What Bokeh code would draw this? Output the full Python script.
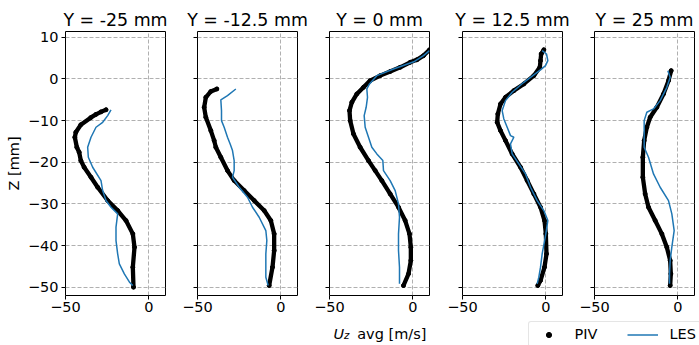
from bokeh.plotting import figure
from bokeh.layouts import row, column
from bokeh.models import Range1d, FixedTicker, Legend, LegendItem
from bokeh.core.properties import value
from bokeh.embed import file_html
from bokeh.resources import INLINE

# ---------------- data ----------------
titles = ["Y = -25 mm", "Y = -12.5 mm", "Y = 0 mm", "Y = 12.5 mm", "Y = 25 mm"]
x_ticks = [-50, 0]
y_ticks = [-50, -40, -30, -20, -10, 0, 10]
y_label = "Z [mm]"
x_label_parts = ["U", "z", "avg [m/s]"]
legend_labels = ["PIV", "LES"]

# Y = -25 mm
piv_z_1 = [-7.4, -7.9, -8.5, -9.3, -11.0, -12.8, -14.0, -16.4, -17.6, -19.6, -21.2, -23.6, -26.0,
           -29.2, -31.6, -34.0, -37.2, -40.4, -45.2, -50.0]
piv_u_1 = [-25.7, -28.7, -31.7, -34.9, -40.8, -43.8, -44.4, -43.2, -41.8, -40.8, -38.8, -34.7, -30.7,
           -24.7, -18.7, -13.7, -9.6, -8.6, -9.6, -9.2]
les_z_1 = [-7.4, -8.8, -10.4, -11.6, -14.0, -16.4, -18.8, -21.2, -24.4, -26.8, -29.2, -30.8, -32.4,
           -35.6, -38.8, -42.0, -44.4, -46.8, -48.8, -49.6]
les_u_1 = [-22.7, -24.7, -27.7, -31.7, -34.7, -36.7, -36.3, -33.7, -28.7, -27.7, -25.7, -22.7, -18.7,
           -19.7, -19.7, -18.7, -17.7, -14.7, -11.6, -9.6]

# Y = -12.5 mm
piv_z_2 = [-2.4, -3.0, -4.4, -6.8, -9.2, -12.4, -14.8, -16.4, -18.8, -22.0, -24.4, -26.8, -29.2,
           -31.6, -34.0, -37.2, -41.2, -45.2, -49.6]
piv_u_2 = [-38.4, -42.0, -45.0, -46.0, -45.0, -42.0, -40.0, -39.0, -36.0, -32.0, -28.0, -22.0, -16.0,
           -10.0, -6.0, -4.0, -4.0, -5.0, -7.0]
les_z_2 = [-2.4, -4.0, -5.0, -7.6, -10.0, -11.6, -14.0, -15.6, -17.2, -19.6, -22.0, -23.6, -26.0,
           -28.4, -30.8, -33.2, -36.4, -38.8, -42.0, -45.2, -47.6, -49.6]
les_u_2 = [-27.0, -32.0, -36.0, -35.6, -35.6, -34.0, -32.0, -30.4, -29.0, -28.0, -28.0, -29.0, -25.0,
           -20.0, -17.0, -13.0, -9.0, -8.4, -9.0, -9.0, -9.0, -7.6]

# Y = 0 mm
piv_z_3 = [7.0, 5.6, 4.6, 4.0, 2.8, 1.8, 0.8, -0.4, -2.0, -3.6, -5.6, -7.6, -10.0, -13.2, -16.4,
           -19.6, -22.0, -24.4, -27.6, -30.8, -34.0, -37.2, -40.4, -43.6, -46.8, -49.6]
piv_u_3 = [10.0, 6.4, 2.4, -1.6, -7.6, -13.6, -19.6, -25.6, -29.6, -33.6, -36.6, -38.0, -37.6, -35.6,
           -31.6, -26.6, -22.6, -18.6, -13.6, -8.6, -4.6, -2.0, -1.2, -1.2, -2.6, -5.6]
les_z_3 = [6.8, 5.6, 4.2, 2.4, 0.8, -1.2, -2.4, -4.4, -6.8, -8.8, -11.6, -14.0, -16.4, -18.0, -19.6,
           -22.0, -24.4, -26.8, -30.0, -33.2, -37.2, -41.2, -45.2, -49.2]
les_u_3 = [10.0, 6.4, 1.0, -11.6, -21.6, -26.0, -27.6, -27.2, -28.0, -29.2, -28.6, -26.6, -24.6, -21.6,
           -18.0, -17.6, -13.6, -10.6, -8.6, -8.0, -8.6, -8.6, -8.0, -8.0]

# Y = 12.5 mm
piv_z_4 = [7.0, 6.0, 4.4, 2.8, 0.8, -1.2, -2.8, -4.4, -6.0, -8.4, -10.4, -12.4, -14.8, -18.0, -21.2,
           -24.4, -27.6, -30.8, -34.0, -37.2, -42.0, -45.2, -48.4, -49.6]
piv_u_4 = [-1.2, -2.8, -3.2, -3.6, -7.2, -13.2, -19.2, -24.2, -27.2, -28.8, -29.2, -27.2, -24.2, -20.2,
           -15.2, -11.2, -7.2, -3.2, -0.8, 0.0, 0.4, -0.8, -3.2, -4.8]
les_z_4 = [6.8, 6.0, 4.4, 3.2, 2.2, 1.0, -0.8, -3.2, -5.2, -7.6, -9.6, -11.6, -13.6, -14.0, -15.6,
           -18.0, -20.4, -22.8, -26.0, -29.2, -31.6, -34.0, -37.2, -42.0, -45.2, -47.6, -49.2]
les_u_4 = [-2.2, 0.4, 1.2, -0.2, -3.2, -7.2, -13.2, -20.2, -24.2, -26.2, -25.2, -23.2, -21.2, -19.2,
           -21.2, -20.2, -16.2, -12.2, -9.2, -5.2, -1.2, 1.2, 0.0, -2.2, -3.2, -4.2, -5.2]

# Y = 25 mm
piv_z_5 = [2.0, -0.4, -3.6, -6.8, -9.2, -11.6, -14.8, -18.8, -23.6, -27.6, -30.8, -34.0, -37.2,
           -40.4, -43.6, -46.8, -49.6]
piv_u_5 = [-4.0, -5.6, -8.6, -12.6, -16.6, -18.6, -20.2, -21.0, -21.0, -19.6, -17.6, -13.6, -9.6,
           -6.6, -4.6, -4.2, -4.6]
les_z_5 = [2.0, 0.4, -2.0, -5.2, -7.2, -8.0, -10.0, -13.2, -16.4, -18.8, -22.8, -26.0, -29.2, -32.4,
           -36.4, -40.4, -43.6, -46.8, -49.2]
les_u_5 = [-6.0, -4.6, -6.6, -10.6, -14.6, -18.6, -20.2, -20.2, -20.2, -17.6, -14.6, -10.6, -5.6,
           -3.6, -2.2, -3.6, -4.6, -5.0, -5.0]

piv_z = [piv_z_1, piv_z_2, piv_z_3, piv_z_4, piv_z_5]
piv_u = [piv_u_1, piv_u_2, piv_u_3, piv_u_4, piv_u_5]
les_z = [les_z_1, les_z_2, les_z_3, les_z_4, les_z_5]
les_u = [les_u_1, les_u_2, les_u_3, les_u_4, les_u_5]

# ---------------- styling ----------------
FONT = "DejaVu Sans"
TICK_FS = "14.5px"
TITLE_FS = "17.4px"
LES_COLOR = "#1f77b4"
GRID_COLOR = "#b0b0b0"


def minus(v):
    return ("\u2212" + str(abs(v))) if v < 0 else str(v)


# per-panel geometry: (width, height, left border, right border, bottom border)
geo = [
    (181, 345, 65, 16, 50),
    (132, 345, 16, 16, 50),
    (132, 320, 16, 16, 25),
    (133, 320, 17, 16, 25),
    (121, 320, 16, 5, 25),
]

panels = []
for i in range(5):
    w, h, bl, br, bb = geo[i]
    p = figure(width=w, height=h, x_range=Range1d(-50, 10), y_range=Range1d(-52, 11.4),
               output_backend="svg", toolbar_location=None,
               min_border_left=bl, min_border_right=br, min_border_top=31, min_border_bottom=bb)
    p.title.text = titles[i]
    p.title.align = "center"
    p.title.text_font = FONT
    p.title.text_font_size = TITLE_FS
    p.title.text_font_style = "normal"
    p.title.text_color = "black"
    p.title.standoff = 3

    p.outline_line_color = "black"
    p.outline_line_width = 1
    p.background_fill_color = "white"
    p.border_fill_color = "white"

    p.xaxis.ticker = FixedTicker(ticks=x_ticks)
    p.yaxis.ticker = FixedTicker(ticks=y_ticks)
    p.xaxis.major_label_overrides = {t: minus(t) for t in x_ticks}
    if i == 0:
        p.yaxis.major_label_overrides = {t: minus(t) for t in y_ticks}
        p.yaxis.axis_label = y_label
        p.yaxis.axis_label_text_font = FONT
        p.yaxis.axis_label_text_font_size = TICK_FS
        p.yaxis.axis_label_text_font_style = "normal"
        p.yaxis.axis_label_text_color = "black"
        p.yaxis.axis_label_standoff = 3
    else:
        p.yaxis.major_label_overrides = {t: "" for t in y_ticks}

    for ax in (p.xaxis, p.yaxis):
        ax.axis_line_color = None
        ax.major_tick_out = 4
        ax.major_tick_in = 0
        ax.minor_tick_out = 0
        ax.minor_tick_in = 0
        ax.major_tick_line_color = "black"
        ax.major_tick_line_width = 1
        ax.major_label_text_font = FONT
        ax.major_label_text_font_size = TICK_FS
        ax.major_label_text_color = "black"
    p.xaxis.major_label_standoff = 2
    p.yaxis.major_label_standoff = 3

    for g in (p.xgrid, p.ygrid):
        g.grid_line_color = GRID_COLOR
        g.grid_line_dash = "4 2"
        g.grid_line_width = 1

    p.line(piv_u[i], piv_z[i], line_color="black", line_width=4.3,
           line_cap="round", line_join="round")
    p.scatter(piv_u[i], piv_z[i], size=4, color="black")
    p.line(les_u[i], les_z[i], line_color=LES_COLOR, line_width=1.5)
    panels.append(p)


def strip(width, height, xr, yr):
    s = figure(width=width, height=height, x_range=xr, y_range=yr, title=None,
               x_axis_type=None, y_axis_type=None, output_backend="svg",
               toolbar_location=None, min_border=0)
    s.outline_line_color = None
    s.xgrid.visible = False
    s.ygrid.visible = False
    return s


# x axis label strip under the middle panel; its frame lines up with the panel frame
# (100 px wide), so x is in pixels from the frame's left edge, y in pixels downward
xl = strip(132, 25, Range1d(0, 100), Range1d(25, 0))
xl.text(x=[4], y=[13], text=[x_label_parts[0]], text_font=value(FONT),
        text_font_size=value(TICK_FS), text_font_style=value("italic"),
        text_color="black", text_baseline="alphabetic", text_align="left")
xl.text(x=[14.5], y=[15], text=[x_label_parts[1]], text_font=value(FONT),
        text_font_size=value("10.2px"), text_font_style=value("italic"),
        text_color="black", text_baseline="alphabetic", text_align="left")
xl.text(x=[27.7], y=[13], text=[x_label_parts[2]], text_font=value(FONT),
        text_font_size=value(TICK_FS), text_font_style=value("normal"),
        text_color="black", text_baseline="alphabetic", text_align="left")

# legend strip below the two right panels
lf = strip(254, 25, Range1d(0, 1), Range1d(0, 1))
r_piv = lf.scatter([-10], [-10], size=5, color="black")
r_les = lf.line([-10, -9], [-10, -10], line_color=LES_COLOR, line_width=1.5)
legend = Legend(items=[LegendItem(label=legend_labels[0], renderers=[r_piv]),
                       LegendItem(label=legend_labels[1], renderers=[r_les])],
                orientation="horizontal", location=(82.5, -2), margin=0, padding=4,
                glyph_width=31, glyph_height=13, label_height=13, label_width=20,
                label_standoff=11, spacing=30, label_text_line_height=1.0,
                label_text_font=FONT, label_text_font_size=TICK_FS, label_text_color="black",
                border_line_color="#cccccc", border_line_width=1,
                background_fill_color="white", background_fill_alpha=1)
if "border_radius" in Legend.properties():
    legend.border_radius = 3
lf.add_layout(legend)

layout = row(panels[0], panels[1], column(panels[2], xl),
             column(row(panels[3], panels[4]), lf))

open("out.html", "w").write(file_html(layout, INLINE))
